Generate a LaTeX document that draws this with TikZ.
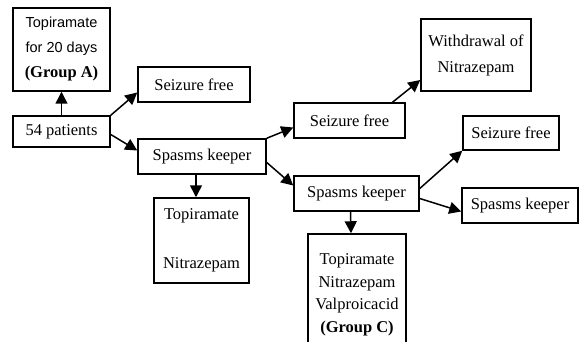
\documentclass[tikz,border=0pt]{standalone}
\usepackage{fontspec}
\setmainfont{Liberation Serif}
\newfontfamily\arialfont{Liberation Sans}
\usepackage{tikz}
\usetikzlibrary{arrows.meta}

\tikzset{
  box/.style={draw,line width=1.5pt,inner sep=0pt,align=center,
    font=\fontsize{16.5}{20}\selectfont},
  arr/.style={-{Triangle[length=12pt,width=12pt]},line width=1.5pt}
}
\newcommand{\sanstext}[1]{{\arialfont\fontsize{14.5}{25}\selectfont #1}}

\begin{document}
\begin{tikzpicture}[x=1pt,y=-1pt]
  \useasboundingbox (0,0) rectangle (580,342);
  \clip (0,0) rectangle (580,342);
  \node (grpA) [box,minimum width=97pt,minimum height=83pt,
    font=\fontsize{16.5}{25}\selectfont] at (61.5,49.5)
    {\sanstext{Topiramate}\\\sanstext{for 20 days}\\\textbf{(Group A)}};
  \node (pat) [box,minimum width=97pt,minimum height=31pt] at (61.5,131.5) {54 patients};
  \node (sf1) [box,minimum width=112pt,minimum height=35pt] at (194,84.5) {Seizure free};
  \node (sk1) [box,minimum width=128pt,minimum height=35pt] at (202,156.5) {Spasms keeper};
  \node (tn) [box,minimum width=95pt,minimum height=85pt,
    font=\fontsize{16.5}{24.5}\selectfont] at (201.5,240.5) {Topiramate\\[24.5pt]Nitrazepam};
  \node (sf2) [box,minimum width=111pt,minimum height=35pt] at (349.5,120.5) {Seizure free};
  \node (wd) [box,minimum width=110pt,minimum height=72pt,
    font=\fontsize{16.5}{26}\selectfont] at (476,55) {Withdrawal of\\Nitrazepam};
  \node (sk2) [box,minimum width=125pt,minimum height=35pt] at (356.5,193.5) {Spasms keeper};
  \node (sf3) [box,minimum width=96pt,minimum height=34pt] at (511,133) {Seizure free};
  \node (sk3) [box,minimum width=116pt,minimum height=35pt] at (520,205.5) {Spasms keeper};
  \node (grpC) [box,minimum width=98pt,minimum height=122pt,
    font=\fontsize{16.5}{22.5}\selectfont] at (357,295)
    {Topiramate\\Nitrazepam\\Valproicacid\\\textbf{(Group C)}};
  \path[arr]
    (pat.north) edge (grpA.south)
    (pat.north east) edge ([yshift=-8pt]sf1.west)
    ([yshift=-3pt]pat.east) edge ([yshift=6pt]sk1.west)
    ([xshift=-6pt]sk1.south) edge ([xshift=-5.5pt]tn.north)
    (sk1.north east) edge ([yshift=-7pt]sf2.west)
    ([yshift=-6pt]sk1.east) edge ([yshift=8pt]sk2.west)
    ([xshift=43pt]sf2.north) edge ([yshift=-25pt]wd.west)
    ([yshift=5pt]sk2.east) edge (sf3.south west)
    ([yshift=-5pt]sk2.east) edge ([yshift=-6pt]sk3.west)
    ([xshift=-6pt]sk2.south) edge ([xshift=-6pt]grpC.north);
\end{tikzpicture}
\end{document}
